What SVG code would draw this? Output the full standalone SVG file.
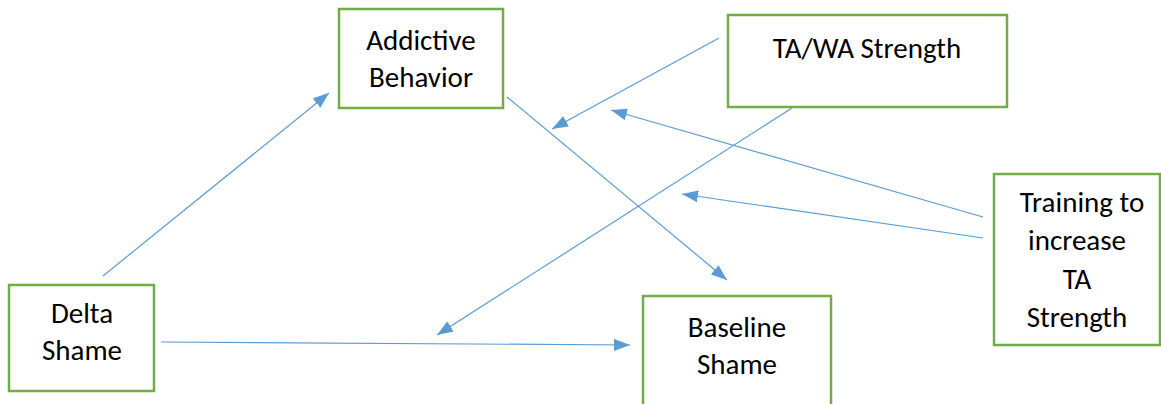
<svg xmlns="http://www.w3.org/2000/svg" width="1161" height="404" viewBox="0 0 1161 404">
<style>
.box{fill:#fff;stroke:#70AD47;stroke-width:2.5}
.t{font-family:Carlito,"Open Sans","Liberation Sans",sans-serif;font-size:29px;fill:#000;text-anchor:middle}
.c{stroke:#5B9BD5;stroke-width:1.2;fill:none;marker-end:url(#ah)}
</style>
<defs>
<marker id="ah" markerUnits="userSpaceOnUse" markerWidth="16" markerHeight="12" refX="16" refY="6" orient="auto">
<path d="M0,0 L16,6 L0,12 Z" fill="#5B9BD5"/>
</marker>
</defs>
<rect width="1161" height="404" fill="#fff"/>
<g id="connectors">
<line class="c" x1="103" y1="276" x2="329" y2="93"/>
<line class="c" x1="507" y1="97" x2="727" y2="280"/>
<line class="c" x1="719" y1="38" x2="552" y2="129"/>
<line class="c" x1="983" y1="217" x2="611" y2="110"/>
<line class="c" x1="983" y1="238" x2="682" y2="194"/>
<line class="c" x1="792" y1="108" x2="437" y2="335"/>
<line class="c" x1="161" y1="342" x2="630" y2="345"/>
</g>
<g id="addictive">
<rect class="box" x="339" y="9" width="164" height="99"/>
<text class="t" x="421" y="50">Addictive</text>
<text class="t" x="421" y="87">Behavior</text>
</g>
<g id="tawa">
<rect class="box" x="728" y="15" width="279" height="92"/>
<text class="t" x="867" y="58">TA/WA Strength</text>
</g>
<g id="training">
<rect class="box" x="994" y="174" width="166" height="171"/>
<text class="t" x="1082" y="212">Training to</text>
<text class="t" x="1077" y="250">increase</text>
<text class="t" x="1077" y="289">TA</text>
<text class="t" x="1077" y="327">Strength</text>
</g>
<g id="delta">
<rect class="box" x="9" y="285" width="145" height="106"/>
<text class="t" x="82" y="323">Delta</text>
<text class="t" x="82" y="360">Shame</text>
</g>
<g id="baseline">
<rect class="box" x="643" y="296" width="188" height="112"/>
<text class="t" x="737" y="337">Baseline</text>
<text class="t" x="737" y="374">Shame</text>
</g>
</svg>
